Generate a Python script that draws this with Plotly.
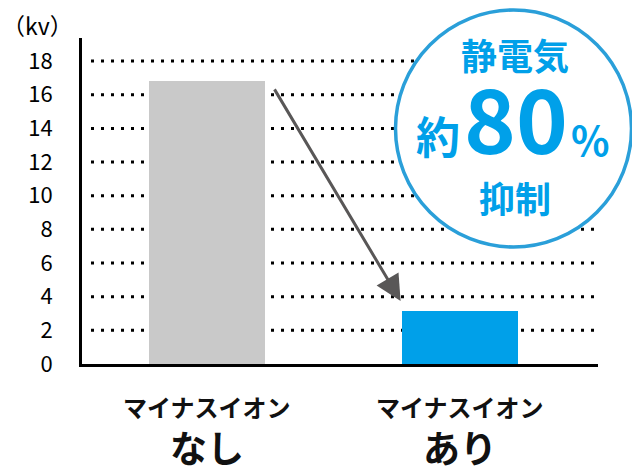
import plotly.graph_objects as go

# data
categories = ["マイナスイオンなし", "マイナスイオンあり"]
label_top = ["マイナスイオン", "マイナスイオン"]
label_bottom = ["なし", "あり"]
values = [16.8, 3.15]
bar_colors = ["#c9c9c9", "#00a0e9"]
y_ticks = [0, 2, 4, 6, 8, 10, 12, 14, 16, 18]

# the page has an 8px body margin, so the figure starts at (8, 8)
OFF = 8
W, H = 640 - OFF, 476 - OFF
# plot area in screen pixels: x 82..598, y 38..364
L, R, T, B = 82, 598, 38, 364


def px(x, y):
    # screen pixel position -> paper coords
    return (x - L) / (R - L), (B - y) / (B - T)


fig = go.Figure()
fig.add_trace(go.Bar(
    x=categories, y=values, width=0.458,
    marker=dict(color=bar_colors, line=dict(width=0)),
    hoverinfo="skip",
))

# dotted grid lines (not at 0)
shapes = []
x0, _ = px(91, 0)
x1, _ = px(594, 0)
for v in y_ticks[1:]:
    shapes.append(dict(type="line", xref="paper", yref="y", x0=x0, x1=x1,
                       y0=v, y1=v, layer="below",
                       line=dict(color="black", width=3, dash="3px,7px")))

# circle badge
cx0, cy0 = px(395.5, 10)
cx1, cy1 = px(631.5, 247)
shapes.append(dict(type="circle", xref="paper", yref="paper",
                   x0=cx0, x1=cx1, y0=cy1, y1=cy0, layer="above",
                   fillcolor="white", line=dict(color="#2a9fd9", width=3.5)))

fig.update_layout(shapes=shapes)

ann = []
blue = "#00a0e9"
font_jp = "Noto Sans CJK JP"


def txt(s, x, y, size, color=blue, family=font_jp):
    xp, yp = px(x, y)
    ann.append(dict(text="<b>%s</b>" % s, xref="paper", yref="paper", x=xp, y=yp,
                    xanchor="center", yanchor="middle", showarrow=False,
                    font=dict(size=size, color=color, family=family)))


txt("静電気", 515, 54, 36)
txt("約", 438, 135, 44)
txt("80", 516, 116, 88)
txt("%", 590, 139, 40)
txt("抑制", 515, 197, 36)

# unit label
xp, yp = px(37, 25)
ann.append(dict(text="（kv）", xref="paper", yref="paper", x=xp, y=yp,
                xanchor="center", yanchor="middle", showarrow=False,
                font=dict(size=23, color="black", family=font_jp)))

# x labels
for c, a, b in zip(categories, label_top, label_bottom):
    _, ya = px(0, 407)
    _, yb = px(0, 447)
    ann.append(dict(text="<b>%s</b>" % a, xref="x", yref="paper", x=c, y=ya,
                    xanchor="center", yanchor="middle", showarrow=False,
                    font=dict(size=24, color="#111111", family=font_jp)))
    ann.append(dict(text="<b>%s</b>" % b, xref="x", yref="paper", x=c, y=yb,
                    xanchor="center", yanchor="middle", showarrow=False,
                    font=dict(size=37, color="#111111", family=font_jp)))

# arrow from first bar down to second
ann.append(dict(text="", x=0.765, y=3.75, xref="x", yref="y",
                ax=273 - 400, ay=88 - 301, axref="pixel", ayref="pixel",
                showarrow=True, arrowhead=2, arrowsize=1.7, arrowwidth=3,
                arrowcolor="#595757"))

fig.update_layout(
    annotations=ann,
    width=W, height=H,
    margin=dict(l=L - OFF, r=640 - R, t=T - OFF, b=476 - B),
    paper_bgcolor="white", plot_bgcolor="white",
    showlegend=False,
    bargap=0,
    xaxis=dict(range=[-0.494, 1.545], showticklabels=False, showgrid=False,
               zeroline=False, showline=True, linecolor="black", linewidth=3,
               ticks=""),
    yaxis=dict(range=[0, 19.37], tickvals=y_ticks, showgrid=False, zeroline=False,
               showline=True, linecolor="black", linewidth=3, ticks="",
               ticklabelstandoff=22,
               tickfont=dict(size=22, color="black", family=font_jp)),
)

fig.write_html("out.html")
